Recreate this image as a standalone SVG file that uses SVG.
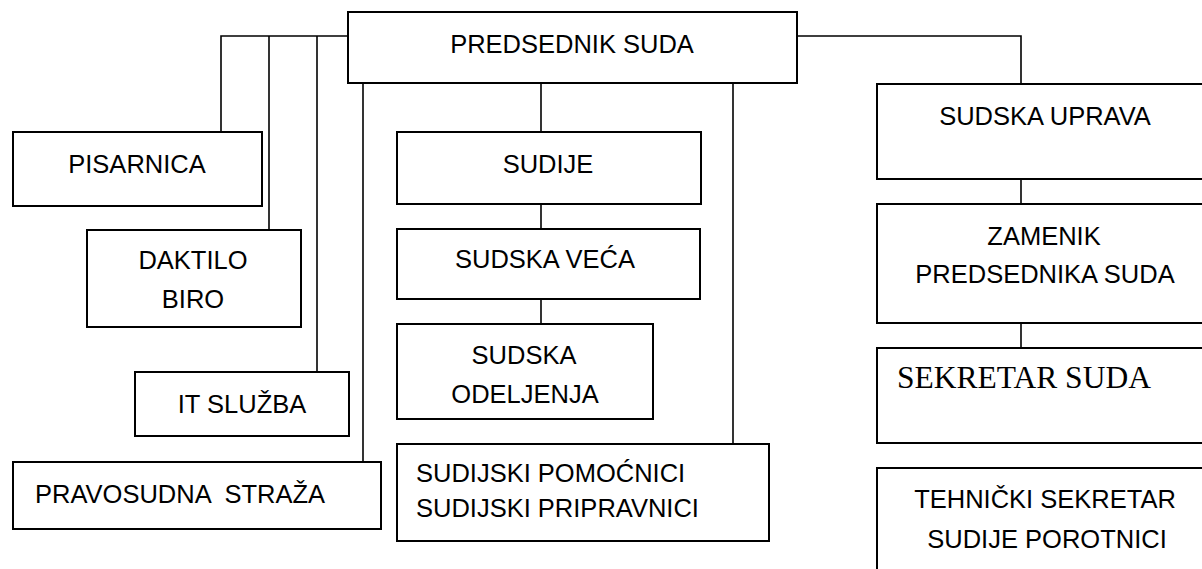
<svg xmlns="http://www.w3.org/2000/svg" width="1202" height="569" viewBox="0 0 1202 569">
<style>
.box{fill:#fff;stroke:#000;stroke-width:2}
.con{fill:none;stroke:#000;stroke-width:1.6}
.t{font-family:"Liberation Sans",Arial,sans-serif;font-size:25.5px;fill:#000;text-anchor:middle}
.l{text-anchor:start}
.s{font-family:"Liberation Serif","Times New Roman",serif;font-size:31.5px;fill:#000}
</style>
<rect width="1202" height="569" fill="#fff"/>
<g id="connectors">
<path class="con" d="M348 36 H221 V132"/>
<path class="con" d="M269 36 V230"/>
<path class="con" d="M317 36 V372"/>
<path class="con" d="M363 83 V462"/>
<path class="con" d="M541 83 V132"/>
<path class="con" d="M733 83 V444"/>
<path class="con" d="M541 204 V229"/>
<path class="con" d="M541 299 V324"/>
<path class="con" d="M797 36 H1021 V84"/>
<path class="con" d="M1021 179 V204"/>
<path class="con" d="M1021 323 V348"/>
</g>
<g id="predsednik"><rect class="box" x="348" y="12" width="449" height="71"/><text class="t" x="572" y="53">PREDSEDNIK SUDA</text></g>
<g id="pisarnica"><rect class="box" x="13" y="132" width="249" height="74"/><text class="t" x="137" y="173">PISARNICA</text></g>
<g id="daktilo"><rect class="box" x="87" y="230" width="214" height="97"/><text class="t" x="193" y="269">DAKTILO</text><text class="t" x="193" y="308">BIRO</text></g>
<g id="it"><rect class="box" x="135" y="372" width="214" height="64"/><text class="t" x="242" y="413">IT SLUŽBA</text></g>
<g id="straza"><rect class="box" x="13" y="462" width="368" height="67"/><text class="t l" x="35" y="503" xml:space="preserve">PRAVOSUDNA  STRAŽA</text></g>
<g id="sudije"><rect class="box" x="397" y="132" width="304" height="72"/><text class="t" x="548" y="173">SUDIJE</text></g>
<g id="vece"><rect class="box" x="397" y="229" width="303" height="70"/><text class="t" x="545" y="268">SUDSKA VEĆA</text></g>
<g id="odeljenja"><rect class="box" x="397" y="324" width="256" height="95"/><text class="t" x="524" y="364">SUDSKA</text><text class="t" x="525" y="403">ODELJENJA</text></g>
<g id="pomocnici"><rect class="box" x="397" y="444" width="372" height="97"/><text class="t l" x="416" y="482">SUDIJSKI POMOĆNICI</text><text class="t l" x="416" y="517">SUDIJSKI PRIPRAVNICI</text></g>
<g id="uprava"><rect class="box" x="877" y="84" width="340" height="95"/><text class="t" x="1045" y="125">SUDSKA UPRAVA</text></g>
<g id="zamenik"><rect class="box" x="877" y="204" width="340" height="119"/><text class="t" x="1044" y="245">ZAMENIK</text><text class="t" x="1045" y="283">PREDSEDNIKA SUDA</text></g>
<g id="sekretar"><rect class="box" x="877" y="348" width="340" height="95"/><text class="s" x="897" y="388">SEKRETAR SUDA</text></g>
<g id="tehnicki"><rect class="box" x="877" y="468" width="340" height="120"/><text class="t" x="1045" y="508">TEHNIČKI SEKRETAR</text><text class="t" x="1047" y="548">SUDIJE POROTNICI</text></g>
</svg>
